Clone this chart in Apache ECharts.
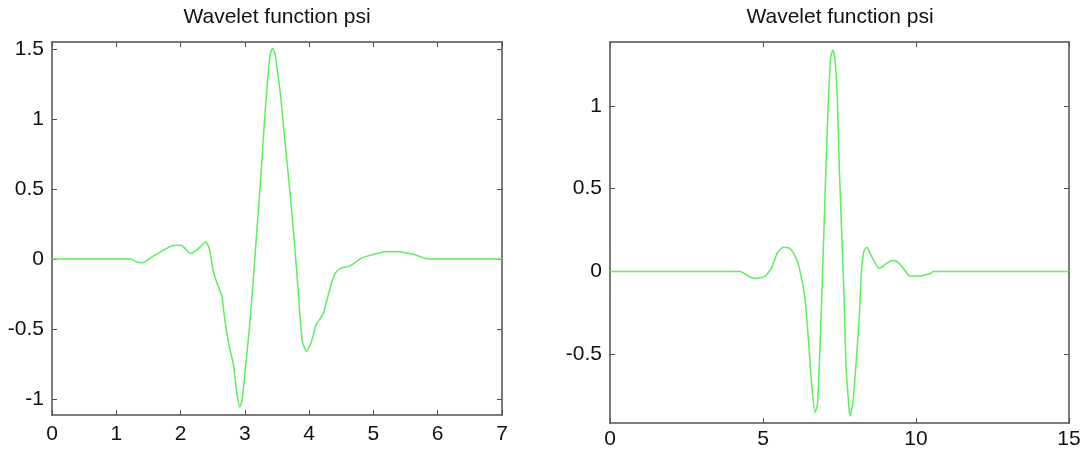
<!DOCTYPE html>
<html>
<head>
<meta charset="utf-8">
<script src="https://cdn.jsdelivr.net/npm/echarts@6/dist/echarts.min.js"></script>
<style>
html,body{margin:0;padding:0;background:#fff;}
#c{width:1086px;height:455px;}
</style>
</head>
<body>
<div id="c"></div>
<script>
// ---- data ----
const titleText = "Wavelet function psi";

const leftX = [0, 1.22, 1.30, 1.40, 1.54, 1.69, 1.87, 2.01, 2.08, 2.16, 2.27, 2.39, 2.45, 2.51, 2.58, 2.64, 2.69, 2.76, 2.82, 2.87, 2.92, 2.96, 3.01, 3.07, 3.13, 3.19, 3.25, 3.30, 3.35, 3.39, 3.43, 3.46, 3.49, 3.56, 3.62, 3.69, 3.76, 3.82, 3.87, 3.90, 3.96, 4.03, 4.11, 4.22, 4.33, 4.41, 4.49, 4.60, 4.70, 4.81, 4.97, 5.19, 5.40, 5.62, 5.86, 7];
const leftY = [0, 0, -0.018, -0.028, 0.01, 0.05, 0.095, 0.097, 0.07, 0.038, 0.07, 0.122, 0.07, -0.09, -0.19, -0.26, -0.44, -0.63, -0.75, -0.94, -1.06, -1.0, -0.77, -0.5, -0.15, 0.22, 0.6, 0.95, 1.25, 1.45, 1.505, 1.48, 1.40, 1.15, 0.86, 0.53, 0.18, -0.17, -0.48, -0.6, -0.66, -0.6, -0.47, -0.39, -0.2, -0.1, -0.067, -0.055, -0.031, 0.005, 0.029, 0.052, 0.052, 0.033, 0, 0];

const rightX = [0, 4.25, 4.58, 4.79, 5.07, 5.28, 5.47, 5.66, 5.88, 6.10, 6.21, 6.37, 6.48, 6.59, 6.70, 6.78, 6.84, 6.92, 6.99, 7.06, 7.14, 7.21, 7.28, 7.35, 7.43, 7.49, 7.57, 7.65, 7.71, 7.79, 7.84, 7.93, 8.04, 8.15, 8.22, 8.30, 8.39, 8.52, 8.80, 8.99, 9.21, 9.37, 9.59, 9.80, 10.13, 10.3, 10.46, 10.57, 15];
const rightY = [0, 0, -0.034, -0.042, -0.028, 0.022, 0.112, 0.146, 0.138, 0.072, 0.002, -0.159, -0.40, -0.681, -0.852, -0.802, -0.56, -0.159, 0.243, 0.645, 1.046, 1.287, 1.337, 1.287, 1.046, 0.645, 0.243, -0.159, -0.56, -0.78, -0.872, -0.802, -0.56, -0.259, 0.002, 0.122, 0.146, 0.102, 0.018, 0.042, 0.066, 0.062, 0.018, -0.028, -0.028, -0.02, -0.014, 0, 0];

const leftXTicks = [0, 1, 2, 3, 4, 5, 6, 7];
const leftYTicks = [-1, -0.5, 0, 0.5, 1, 1.5];
const rightXTicks = [0, 5, 10, 15];
const rightYTicks = [-0.5, 0, 0.5, 1];

const leftYRange = [-1.115, 1.55];
const rightYRange = [-0.915, 1.385];

// ---- styles ----
const FONT = "Liberation Sans, Arial, sans-serif";
const AX = '#505050';
const GREEN = '#5cf05c';

function zip(xs, ys){ return xs.map((x,i)=>[x, ys[i]]); }

function xAx(grid, ticks, pos, labels, margin){
  return {
    type:'value', gridIndex:grid, position:pos,
    min:ticks[0], max:ticks[ticks.length-1], interval:ticks[1]-ticks[0],
    axisLine:{show:true, onZero:false, lineStyle:{color:AX, width:1.5}},
    axisTick:{show:true, inside:true, length:5, lineStyle:{color:AX, width:1}},
    splitLine:{show:false},
    axisLabel:{show:labels, color:'#111', fontSize:21, fontFamily:FONT, margin:margin}
  };
}
function yAx(grid, ticks, range, pos, labels){
  return {
    type:'value', gridIndex:grid, position:pos,
    min:range[0], max:range[1],
    axisLine:{show:true, onZero:false, lineStyle:{color:AX, width:1.5}},
    axisTick:{show:true, inside:true, length:5, customValues:ticks, lineStyle:{color:AX, width:1}},
    splitLine:{show:false},
    axisLabel:{show:labels, customValues:ticks, color:'#111', fontSize:21, fontFamily:FONT, margin:8}
  };
}

const chart = echarts.init(document.getElementById('c'), null, {renderer:'canvas'});
chart.setOption({
  backgroundColor:'#fff',
  animation:false,
  graphic:[
    {type:'text', x:277, y:17, style:{text:titleText, textAlign:'center', textVerticalAlign:'middle', font:'21px ' + FONT, fill:'#111'}},
    {type:'text', x:840, y:17, style:{text:titleText, textAlign:'center', textVerticalAlign:'middle', font:'21px ' + FONT, fill:'#111'}}
  ],
  grid:[
    {left:52, top:42, width:450, height:373},
    {left:610, top:42, width:459, height:381}
  ],
  xAxis:[
    xAx(0, leftXTicks, 'bottom', true, 9),
    xAx(0, leftXTicks, 'top', false, 8),
    xAx(1, rightXTicks, 'bottom', true, 6),
    xAx(1, rightXTicks, 'top', false, 8)
  ],
  yAxis:[
    yAx(0, leftYTicks, leftYRange, 'left', true),
    yAx(0, leftYTicks, leftYRange, 'right', false),
    yAx(1, rightYTicks, rightYRange, 'left', true),
    yAx(1, rightYTicks, rightYRange, 'right', false)
  ],
  series:[
    {type:'line', xAxisIndex:0, yAxisIndex:0, data:zip(leftX, leftY), showSymbol:false, smooth:0.2,
     lineStyle:{color:GREEN, width:1.5}},
    {type:'line', xAxisIndex:2, yAxisIndex:2, data:zip(rightX, rightY), showSymbol:false, smooth:0.2,
     lineStyle:{color:GREEN, width:1.5}}
  ]
});
</script>
</body>
</html>
